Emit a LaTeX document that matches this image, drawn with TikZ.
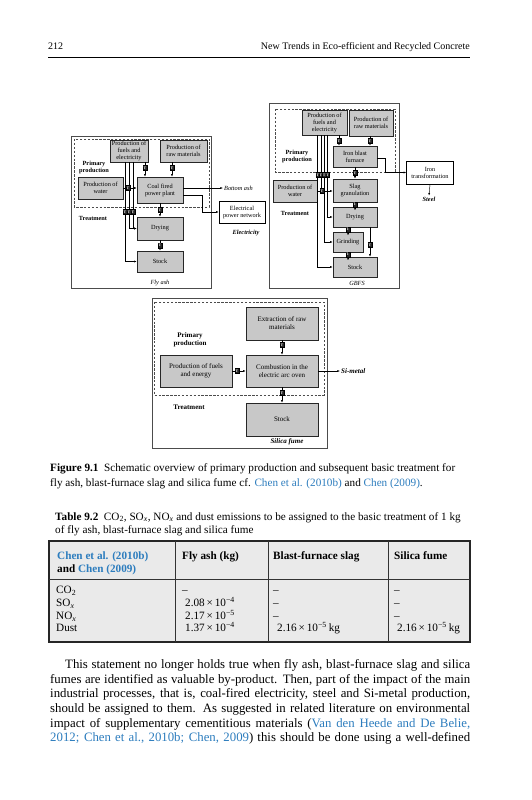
\documentclass[tikz,border=0pt]{standalone}
\usepackage{fontspec}
\setmainfont{Liberation Serif}
\usetikzlibrary{arrows.meta,shadows}
\definecolor{citeblue}{RGB}{45,125,190}
\definecolor{boxgray}{RGB}{200,200,200}
\definecolor{tabgray}{RGB}{234,234,234}

\newcommand{\dgfont}{\fontsize{6.3}{7}\selectfont}
\newcommand{\sfdgfont}{\fontsize{7}{8}\selectfont}
\newcommand{\bodyfont}{\fontsize{12.8}{14.5}\selectfont}
\newcommand{\capfont}{\fontsize{11.2}{15}\selectfont}
\newcommand{\headfont}{\fontsize{10}{12}\selectfont}
\newcommand{\citeb}[1]{\textcolor{citeblue}{#1}}

\tikzset{
  proc/.style={draw=black!85, fill=boxgray, line width=0.5pt, align=center, inner sep=0.3pt, font=\dgfont},
  bigproc/.style={proc, font=\sfdgfont},
  outbox/.style={draw=black, fill=white, line width=0.5pt, align=center, inner sep=0.3pt, font=\dgfont},
  panel/.style={draw=black!70, fill=white, line width=0.6pt, drop shadow={shadow xshift=1pt, shadow yshift=-1pt, fill=black!60}},
  zone/.style={draw=black!70, line width=0.5pt, dash pattern=on 2.4pt off 1.5pt},
  tr/.style={draw=black, fill=black!85, text=white, font=\fontsize{3.8}{3.8}\selectfont\bfseries, inner sep=0pt, minimum width=3.5pt, minimum height=4.8pt},
  arr/.style={-{Latex[length=2.6pt,width=2pt]}, line width=0.45pt},
  link/.style={line width=0.45pt},
  phase/.style={font=\dgfont\bfseries, align=center},
  bigphase/.style={font=\sfdgfont\bfseries, align=center},
  product/.style={font=\dgfont\itshape, inner sep=1pt},
  parline/.style={anchor=base west, inner sep=0pt, font=\bodyfont},
  capline/.style={anchor=base west, inner sep=0pt, font=\capfont},
  cell/.style={anchor=base west, inner sep=0pt, font=\capfont},
  tabframe/.style={draw=black!85, fill=tabgray, line width=1.4pt},
  tabrule/.style={draw=black!80, line width=0.8pt},
}

\begin{document}
\begin{tikzpicture}[x=1pt, y=-1pt]
\useasboundingbox (0,0) rectangle (531,800);
\fill[white] (0,0) rectangle (531,800);

% running head
\node[anchor=base west, inner sep=0pt, font=\headfont] (pagenum) at (48,49.5) {212};
\node[anchor=base east, inner sep=0pt, font=\headfont] (runhead) at (470,49.5) {New Trends in Eco-efficient and Recycled Concrete};
\draw[line width=0.5pt] (48,57) -- (470,57);

% ---- fly ash ----
\draw[panel] (71,136) rectangle (211,288);
\draw[zone] (74,139) rectangle (209,207);

\node[proc, minimum width=38pt, minimum height=22pt] (fa-fuel) at (129,151) {Production of\\fuels and\\electricity};
\node[proc, minimum width=47pt, minimum height=22pt] (fa-raw) at (183.5,151) {Production of\\raw materials};
\node[proc, minimum width=45pt, minimum height=22pt] (fa-water) at (100.5,188) {Production of\\water};
\node[proc, minimum width=46pt, minimum height=26pt] (fa-plant) at (160,190) {Coal fired\\power plant};
\node[proc, minimum width=46pt, minimum height=23pt] (fa-dry) at (160,228.5) {Drying};
\node[proc, minimum width=46pt, minimum height=21pt] (fa-stock) at (160,261.5) {Stock};
\node[outbox, minimum width=46pt, minimum height=22pt] (fa-grid) at (242,212) {Electrical\\power network};

\node[phase] (fa-prim) at (94,167) {Primary\\production};
\node[phase] (fa-treat) at (93,218) {Treatment};
\node[product, anchor=west] (fa-bash) at (223,188) {Bottom ash};
\node[product, font=\dgfont\bfseries\itshape] (fa-elec) at (246,233) {Electricity};
\node[product] (fa-name) at (160,283) {Fly ash};

\node[tr] (fa-t1) at (145,168) {T};
\node[tr] (fa-t2) at (172,168) {T};
\node[tr] (fa-t4) at (160,210) {T};
\node[tr] (fa-t5) at (160,245.5) {T};
\node[tr] (fa-t6) at (125,212) {T};
\node[tr] (fa-t7) at (129,212) {T};
\node[tr] (fa-t8) at (133,212) {T};
\coordinate (fa-bend) at (202,195);

\draw[arr] (fa-fuel.south -| fa-t1) -- (fa-t1) (fa-t1) -- (fa-plant.north -| fa-t1);
\draw[arr] (fa-raw.south -| fa-t2) -- (fa-t2) (fa-t2) -- (fa-plant.north -| fa-t2);
\draw[arr] (fa-plant.south) -- (fa-t4) (fa-t4) -- (fa-dry.north);
\draw[arr] (fa-dry.south) -- (fa-t5) (fa-t5) -- (fa-stock.north);
\draw[arr] (fa-plant.east |- fa-bash) -- (fa-bash.west);
\draw[arr] (fa-plant.east |- fa-bend) -- (fa-bend) |- (fa-grid.west);
\draw[arr] (fa-fuel.south -| fa-t6) -- (fa-t6) (fa-t6.south) |- (fa-stock.west);
\draw[arr] (fa-fuel.south -| fa-t7) -- (fa-t7) (fa-t7.south) |- (fa-dry.west);
\draw[arr] (fa-fuel.south -| fa-t8) -- (fa-t8) (fa-t8.south) |- (fa-dry.west);

\node[tr] (fa-t3) at (128,188) {T};
\draw[arr] (fa-water.east) -- (fa-t3) (fa-t3) -- (fa-plant.west |- fa-t3);

% ---- GBFS ----
\draw[panel] (269,103) rectangle (399,288);
\draw[zone] (275,109) rectangle (395,172);

\node[proc, minimum width=45pt, minimum height=25pt] (gb-fuel) at (324.5,122.5) {Production of\\fuels and\\electricity};
\node[proc, minimum width=44pt, minimum height=26pt] (gb-raw) at (371,123) {Production of\\raw materials};
\node[proc, minimum width=44pt, minimum height=21pt] (gb-furn) at (355,156.5) {Iron blast\\furnace};
\node[proc, minimum width=44pt, minimum height=22pt] (gb-water) at (295,191) {Production of\\water};
\node[proc, minimum width=44pt, minimum height=23pt] (gb-slag) at (355,190.5) {Slag\\granulation};
\node[proc, minimum width=44pt, minimum height=20pt] (gb-dry) at (355,217) {Drying};
\node[proc, minimum width=30pt, minimum height=20pt] (gb-grind) at (348,242) {Grinding};
\node[proc, minimum width=44pt, minimum height=20pt] (gb-stock) at (355,267) {Stock};
\node[outbox, minimum width=47pt, minimum height=23pt] (gb-iron) at (430,172.5) {Iron\\transformation};

\node[phase] (gb-prim) at (297,156) {Primary\\production};
\node[phase] (gb-treat) at (295,213) {Treatment};
\node[product, font=\dgfont\bfseries\itshape] (gb-steel) at (429,199) {Steel};
\node[product] (gb-name) at (357,283) {GBFS};

\node[tr] (gb-t1) at (339,141) {T};
\node[tr] (gb-t2) at (370,141) {T};
\node[tr] (gb-t3) at (355,173) {T};
\node[tr] (gb-t4) at (355,204.5) {T};
\node[tr] (gb-t5) at (348,229.5) {T};
\node[tr] (gb-t6) at (370,245) {T};
\node[tr] (gb-t7) at (348,254.5) {T};
\node[tr] (gb-ta) at (317.6,175) {T};
\node[tr] (gb-tb) at (320.9,175) {T};
\node[tr] (gb-tc) at (324.2,175) {T};
\node[tr] (gb-td) at (327.5,175) {T};
\coordinate (gb-bend) at (385,158);

\draw[arr] (gb-fuel.south -| gb-t1) -- (gb-t1) (gb-t1) -- (gb-furn.north -| gb-t1);
\draw[arr] (gb-raw.south -| gb-t2) -- (gb-t2) (gb-t2) -- (gb-furn.north -| gb-t2);
\draw[arr] (gb-furn.south) -- (gb-t3) (gb-t3) -- (gb-slag.north);
\draw[arr] (gb-slag.south) -- (gb-t4) (gb-t4) -- (gb-dry.north);
\draw[arr] (gb-dry.south -| gb-t5) -- (gb-t5) (gb-t5) -- (gb-grind.north);
\draw[arr] (gb-dry.south -| gb-t6) -- (gb-t6) (gb-t6) -- (gb-stock.north -| gb-t6);
\draw[arr] (gb-grind.south) -- (gb-t7) (gb-t7) -- (gb-stock.north -| gb-t7);
\draw[arr] (gb-furn.east |- gb-bend) -- (gb-bend) |- (gb-iron.west);
\draw[arr] (gb-iron.south) -- (gb-steel.north);
\draw[arr] (gb-fuel.south -| gb-ta) -- (gb-ta) (gb-ta.south) |- (gb-stock.west);
\draw[link] (gb-fuel.south -| gb-tb) -- (gb-tb) (gb-tb.south) -- (gb-tb |- gb-water.east);
\draw[arr] (gb-fuel.south -| gb-tc) -- (gb-tc) (gb-tc.south) |- (gb-grind.west);
\draw[arr] (gb-fuel.south -| gb-td) -- (gb-td) (gb-td.south) |- (gb-dry.west);

\node[tr] (gb-tw) at (322,191) {T};
\draw[arr] (gb-water.east) -- (gb-tw) (gb-tw) -- (gb-slag.west |- gb-tw);

% ---- silica fume ----
\draw[panel] (152,298) rectangle (327,448);
\draw[zone] (154,302) rectangle (324,395);

\node[bigproc, minimum width=72pt, minimum height=33pt] (sf-ext) at (282,323.5) {Extraction of raw\\materials};
\node[bigproc, minimum width=72pt, minimum height=32pt] (sf-comb) at (282,371) {Combustion in the\\electric arc oven};
\node[bigproc, minimum width=72pt, minimum height=32pt] (sf-fuel) at (196,371) {Production of fuels\\and energy};
\node[bigproc, minimum width=72pt, minimum height=33pt] (sf-stock) at (282,419.5) {Stock};

\node[bigphase] (sf-prim) at (190,339.5) {Primary\\production};
\node[bigphase] (sf-treat) at (189,407) {Treatment};
\node[product, font=\sfdgfont\bfseries\itshape, anchor=west] (sf-metal) at (340,371) {Si-metal};
\node[product, font=\sfdgfont\bfseries\itshape] (sf-name) at (287,442) {Silica fume};

\node[tr] (sf-t1) at (282,345) {T};
\node[tr] (sf-t2) at (237,371) {T};
\node[tr] (sf-t3) at (282,393) {T};

\draw[arr] (sf-ext.south) -- (sf-t1) (sf-t1) -- (sf-comb.north);
\draw[arr] (sf-fuel.east) -- (sf-t2) (sf-t2) -- (sf-comb.west);
\draw[arr] (sf-comb.east) -- (sf-metal.west);
\draw[arr] (sf-comb.south) -- (sf-t3) (sf-t3) -- (sf-stock.north);

% ---- captions ----
\node[capline] (figcap1) at (50,471.5) {\textbf{Figure 9.1}\enspace Schematic overview of primary production and subsequent basic treatment for};
\node[capline] (figcap2) at (50,486.5) {fly ash, blast-furnace slag and silica fume cf. \citeb{Chen et al. (2010b)} and \citeb{Chen (2009)}.};
\node[capline] (tabcap1) at (55,520) {\textbf{Table 9.2}\enspace CO\textsubscript{2}, SO\textsubscript{\textit{x}}, NO\textsubscript{\textit{x}} and dust emissions to be assigned to the basic treatment of 1 kg};
\node[capline] (tabcap2) at (55,533.5) {of fly ash, blast-furnace slag and silica fume};

% ---- table ----
\draw[tabframe] (49,541) rectangle (470,642);
\draw[tabrule] (49,579) -- (470,579);
\draw[tabrule] (175,541) -- (175,642);
\draw[tabrule] (268,541) -- (268,642);
\draw[tabrule] (388,541) -- (388,642);

\node[cell] (h-src1) at (57,559.5) {\textbf{\citeb{Chen et al. (2010b)}}};
\node[cell] (h-src2) at (57,572) {\textbf{and \citeb{Chen (2009)}}};
\node[cell] (h-fly) at (182,559.5) {\textbf{Fly ash (kg)}};
\node[cell] (h-bfs) at (273,559.5) {\textbf{Blast-furnace slag}};
\node[cell] (h-sf) at (394,559.5) {\textbf{Silica fume}};

\node[cell] (r-co2) at (56,593.5) {CO\textsubscript{2}};
\node[cell] (r-sox) at (56,606.5) {SO\textsubscript{\textit{x}}};
\node[cell] (r-nox) at (56,619.5) {NO\textsubscript{\textit{x}}};
\node[cell] (r-dust) at (56,631.5) {Dust};

\node[cell] (fa-co2) at (182,593.5) {–};
\node[cell] (fa-sox) at (185,606.5) {2.08\,×\,10\textsuperscript{−4}};
\node[cell] (fa-nox) at (185,619.5) {2.17\,×\,10\textsuperscript{−5}};
\node[cell] (fa-dust) at (185,631.5) {1.37\,×\,10\textsuperscript{−4}};

\node[cell] (bf-co2) at (273,593.5) {–};
\node[cell] (bf-sox) at (273,606.5) {–};
\node[cell] (bf-nox) at (273,619.5) {–};
\node[cell] (bf-dust) at (277,631.5) {2.16\,×\,10\textsuperscript{−5}\,kg};

\node[cell] (sf-co2) at (394,593.5) {–};
\node[cell] (sf-sox) at (394,606.5) {–};
\node[cell] (sf-nox) at (394,619.5) {–};
\node[cell] (sf-dust) at (397,631.5) {2.16\,×\,10\textsuperscript{−5}\,kg};

% ---- body text ----
\node[parline] (par1) at (65,668.5) {\makebox[405pt][s]{This statement no longer holds true when fly ash, blast-furnace slag and silica}};
\node[parline] (par2) at (50,683) {\makebox[420pt][s]{fumes are identified as valuable by-product. Then, part of the impact of the main}};
\node[parline] (par3) at (50,697.5) {\makebox[420pt][s]{industrial processes, that is, coal-fired electricity, steel and Si-metal production,}};
\node[parline] (par4) at (50,712) {\makebox[420pt][s]{should be assigned to them. As suggested in related literature on environmental}};
\node[parline] (par5) at (50,727) {\makebox[420pt][s]{impact of supplementary cementitious materials (\citeb{Van den Heede and De Belie,}}};
\node[parline] (par6) at (50,741.5) {\makebox[420pt][s]{\citeb{2012; Chen et al., 2010b; Chen, 2009}) this should be done using a well-defined}};
\end{tikzpicture}
\end{document}
